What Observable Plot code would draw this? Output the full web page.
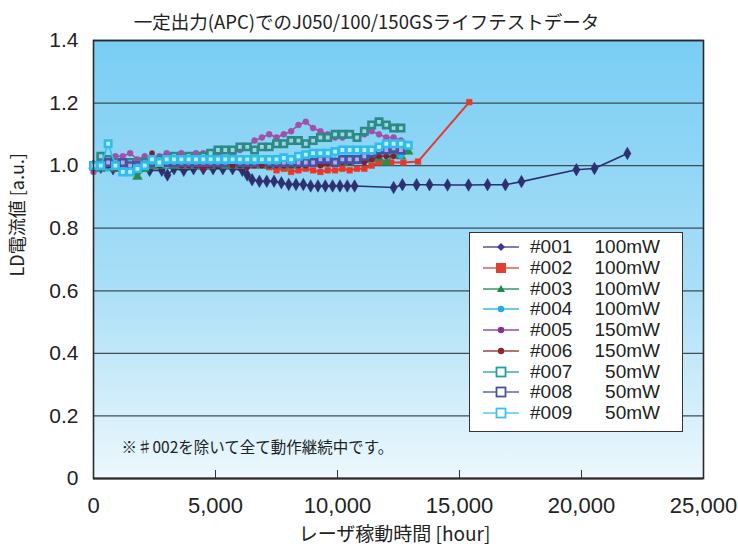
<!DOCTYPE html>
<html><head><meta charset="utf-8">
<script src="https://cdn.jsdelivr.net/npm/d3@7"></script>
<script src="https://cdn.jsdelivr.net/npm/@observablehq/plot@0.6"></script>
<style>
body{margin:0;background:#fff;}
#wrap{position:relative;width:738px;height:554px;font-family:"Liberation Sans",Arial,sans-serif;}
#legend{position:absolute;left:469px;top:232px;width:212px;height:198px;background:#fff;border:1.5px solid #333;}
.row{position:absolute;left:0;width:212px;height:20px;font-size:19px;color:#222;}
.row svg{position:absolute;left:12px;top:0;}
.row .id{position:absolute;left:60px;top:0;line-height:20px;}
.row .pw{position:absolute;right:22px;top:0;line-height:20px;}
</style></head>
<body><div id="wrap"><div id="legend"></div></div>
<script>
const title = "一定出力(APC)でのJ050/100/150GSライフテストデータ";
const xLabel = "レーザ稼動時間 [hour]";
const yLabel = "LD電流値 [a.u.]";
const note = "※♯002を除いて全て動作継続中です。";
const xTicks = [0, 5000, 10000, 15000, 20000, 25000];
const yTicks = [0, 0.2, 0.4, 0.6, 0.8, 1.0, 1.2, 1.4];

const seriesNames = ["#001","#002","#003","#004","#005","#006","#007","#008","#009"];
const seriesPower = ["100mW","100mW","100mW","100mW","150mW","150mW","50mW","50mW","50mW"];
const seriesColors = ["#2e2f6e","#e8382e","#2f8a4e","#1fb6e8","#a050a6","#7e2030","#2a8a8a","#4a50a8","#30bcee"];
const lightFill = ["","","","","","","#9fd6d6","#aab0e0","#bdeefc"];
const legendColors = ["#3a3a92","#e0402e","#1a8a4a","#1ab0e6","#8a3090","#8a2a2a","#20a0a0","#4a4fa0","#40c0ee"];

const h001 = [0,300,800,1300,1800,2300,2800,3030,3300,3700,4100,4500,4900,5300,5700,6100,6300,6500,6800,7100,7400,7700,8000,8300,8600,8900,9200,9500,9800,10100,10400,10700,12300,12660,13240,13770,14510,15370,16150,16880,17540,19790,20530,21880];
const v001 = [1.00,0.995,0.99,0.99,0.985,0.985,0.985,0.97,0.99,0.985,0.99,0.99,0.99,0.99,0.99,0.985,0.97,0.955,0.95,0.95,0.95,0.945,0.94,0.94,0.94,0.935,0.935,0.935,0.935,0.935,0.935,0.935,0.93,0.939,0.939,0.939,0.938,0.938,0.939,0.939,0.949,0.987,0.991,1.039];

const h002 = [0,600,1200,1800,2400,3000,3600,4200,4800,5400,6000,6600,7200,7500,7800,8100,8400,8700,9000,9300,9600,9900,10200,10500,10800,11100,11400,11700,12200,12700,13300,15400];
const v002 = [1.00,1.00,1.00,0.995,1.00,1.00,1.00,1.00,1.00,1.00,1.00,1.00,0.995,0.985,0.99,0.98,0.985,0.99,0.985,0.98,0.985,0.985,0.99,0.985,0.99,0.99,1.00,1.01,1.01,1.01,1.013,1.203];

const hours = [0,300,600,900,1200,1500,1800,2100,2400,2700,3000,3300,3600,3900,4200,4500,4800,5100,5400,5700,6000,6300,6600,6900,7200,7500,7800,8100,8400,8700,9000,9300,9600,9900,10200,10500,10800,11100,11400,11700,12000,12300,12600,12900];
const v003 = [1.00,0.99,1.00,0.99,0.99,0.98,0.965,0.99,1.00,1.00, 1.00,1.00,1.00,1.00,1.00,1.00,1.00,1.005,1.00,1.00, 1.00,1.00,1.005,1.00,1.00,1.005,1.00,1.00,1.005,1.005, 1.01,1.005,1.01,1.01,1.01,1.01,1.015,1.02,1.02,1.025, 1.01,1.035,1.03,1.045];
const v004 = [1.00,1.01,0.99,1.00,0.98,0.99,1.00,1.00,1.01,1.01, 1.00,1.01,1.01,1.01,1.01,1.01,1.02,1.01,1.01,1.01, 1.01,1.02,1.01,1.01,1.01,1.015,1.01,1.01,1.015,1.02, 1.02,1.02,1.02,1.02,1.02,1.025,1.02,1.025,1.03,1.03, 1.03,1.03,1.03,null];
const v005 = [0.98,1.03,1.02,1.03,1.03,1.04,1.02,1.03,1.02,1.03, 1.04,1.03,1.04,1.03,1.04,1.04,1.03,1.04,1.05,1.04, 1.05,1.06,1.08,1.09,1.10,1.09,1.10,1.11,1.13,1.14, 1.12,1.11,1.10,1.09,1.09,1.10,1.09,1.10,1.11,1.10, 1.09,1.09,1.08,null];
const v006 = [0.99,1.00,1.00,0.99,1.00,1.00,0.99,1.00,1.04,1.00, 1.01,1.01,1.00,1.00,1.00,0.99,1.00,1.00,1.01,1.00, 1.00,0.995,1.00,1.00,1.00,1.00,1.00,1.00,1.00,1.00, 1.005,1.00,1.005,1.01,1.01,1.01,1.02,1.01,1.02,1.03, 1.03,1.03,null,null];
const v007 = [1.00,1.03,1.02,1.01,1.00,1.01,1.00,1.01,1.02,1.02, 1.02,1.03,1.02,1.03,1.02,1.03,1.04,1.05,1.05,1.05, 1.06,1.06,1.05,1.06,1.06,1.07,1.07,1.08,1.08,1.07, 1.08,1.09,1.09,1.10,1.10,1.10,1.09,1.11,1.13,1.14, 1.13,1.12,1.12,null];
const v008 = [1.00,1.00,1.01,1.00,1.01,1.00,1.00,1.00,1.01,1.01, 1.01,1.01,1.01,1.01,1.01,1.01,1.01,1.01,1.01,1.02, 1.01,1.01,1.01,1.02,1.01,1.01,1.01,1.01,1.01,1.01, 1.01,1.02,1.02,1.01,1.02,1.02,1.02,1.03,1.04,1.05, 1.05,1.055,1.05,null];
const v009 = [1.00,1.00,1.07,1.00,0.98,0.98,0.99,1.00,1.02,1.01, 1.02,1.02,1.02,1.02,1.02,1.02,1.02,1.02,1.02,1.02, 1.02,1.02,1.02,1.02,1.02,1.02,1.025,1.02,1.03,1.035, 1.04,1.04,1.04,1.045,1.05,1.05,1.05,1.05,1.05,1.06, 1.07,1.07,1.07,1.065];

const seriesH = [h001, h002, hours, hours, hours, hours, hours, hours, hours];
const seriesV = [v001, v002, v003, v004, v005, v006, v007, v008, v009];
const symbols = ["diamond","square","triangle","circle","circle","circle","square","square","square"];
const sizes = [3.8, 3.2, 3.6, 2.6, 3, 2.6, 3.6, 3.6, 3.6];
const openSym = [false,false,false,false,false,false,true,true,true];

const marks = [Plot.frame({fill: "url(#bg)"}),
  Plot.gridY({ticks: yTicks.slice(1), stroke: "#3d4d57", strokeOpacity: 1, strokeWidth: 1.3})];

seriesV.forEach((vals, i) => {
  const rows = [];
  vals.forEach((v, j) => { if (v != null) rows.push({h: seriesH[i][j], v}); });
  marks.push(Plot.line(rows, {x: "h", y: "v", stroke: seriesColors[i], strokeWidth: i === 1 ? 2 : 1.6}));
  marks.push(Plot.dot(rows, {x: "h", y: "v", symbol: symbols[i], r: sizes[i],
    fill: openSym[i] ? lightFill[i] : seriesColors[i],
    stroke: seriesColors[i], strokeWidth: openSym[i] ? 2.6 : 0.5}));
});

marks.push(
  Plot.frame({stroke: "#2a2a2a", strokeWidth: 1.6}),
  Plot.ruleY([0], {stroke: "#2a2a2a", strokeWidth: 2.2}),
  Plot.axisX({ticks: xTicks.slice(1, -1), tickSize: -8, tickFormat: () => "", label: null, stroke: "#333"}),
  Plot.axisX({ticks: xTicks, tickSize: 0, tickPadding: 19, tickFormat: d3.format(","), label: null,
    fontSize: 22, fontFamily: "'Liberation Sans Narrow','Liberation Sans',sans-serif", fill: "#222"}),
  Plot.axisY({ticks: yTicks, tickSize: 0, tickPadding: 15, tickFormat: d => d === 0 ? "0" : d.toFixed(1),
    label: null, fontSize: 21, fill: "#222"}),
  Plot.text([title], {text: d => d, frameAnchor: "top", dx: -32, dy: -25, fontSize: 18.5,
    fontFamily: "'Noto Sans CJK JP',sans-serif", fill: "#222"}),
  Plot.text([xLabel], {text: d => d, frameAnchor: "bottom", dx: -4, dy: 62, fontSize: 19,
    fontFamily: "'Noto Sans CJK JP',sans-serif", fill: "#222"}),
  Plot.text([yLabel], {text: d => d, frameAnchor: "left", dx: -75, dy: 17, rotate: -90, fontSize: 18,
    fontFamily: "'Noto Sans CJK JP',sans-serif", fill: "#222"}),
  Plot.text([note], {text: d => d, frameAnchor: "bottom-left", dx: 28, dy: -26, textAnchor: "start", fontSize: 15.5,
    fontFamily: "'Noto Sans CJK JP',sans-serif", fill: "#222"})
);

const svg = Plot.plot({
  width: 738, height: 554,
  marginLeft: 93, marginRight: 35, marginTop: 40, marginBottom: 76,
  x: {domain: [0, 25000]},
  y: {domain: [0, 1.4]},
  style: {fontFamily: "'Liberation Sans',Arial,sans-serif", background: "#fff"},
  marks
});
const defs = d3.select(svg).insert("defs", ":first-child");
const g = defs.append("linearGradient").attr("id", "bg").attr("x1", 0).attr("y1", 0).attr("x2", 0).attr("y2", 1);
g.append("stop").attr("offset", "0%").attr("stop-color", "#79cef4");
g.append("stop").attr("offset", "55%").attr("stop-color", "#a8def7");
g.append("stop").attr("offset", "100%").attr("stop-color", "#edf8fd");
document.getElementById("wrap").prepend(svg);

// legend
const leg = document.getElementById("legend");
seriesNames.forEach((name, i) => {
  const row = document.createElement("div");
  row.className = "row";
  row.style.top = (4 + i * 20.75) + "px";
  const c = legendColors[i];
  let m;
  const cx = 19, cy = 10;
  if (symbols[i] === "diamond") m = `<path d="M${cx},${cy-4}L${cx+4},${cy}L${cx},${cy+4}L${cx-4},${cy}Z" fill="${c}"/>`;
  else if (symbols[i] === "square" && !openSym[i]) m = `<rect x="${cx-5}" y="${cy-5}" width="10" height="10" fill="${c}"/>`;
  else if (symbols[i] === "triangle") m = `<path d="M${cx},${cy-4}L${cx+4},${cy+3}L${cx-4},${cy+3}Z" fill="${c}"/>`;
  else if (symbols[i] === "circle") m = `<circle cx="${cx}" cy="${cy}" r="3.2" fill="${c}"/>`;
  else m = `<rect x="${cx-4.5}" y="${cy-4.5}" width="9" height="9" fill="#fff" stroke="${c}" stroke-width="1.8"/>`;
  row.innerHTML = `<svg width="40" height="20"><line x1="1" x2="37" y1="10" y2="10" stroke="${c}" stroke-opacity="0.65" stroke-width="2"/>${m}</svg>` +
    `<span class="id">${name}</span><span class="pw">${seriesPower[i]}</span>`;
  leg.appendChild(row);
});
</script></body></html>
